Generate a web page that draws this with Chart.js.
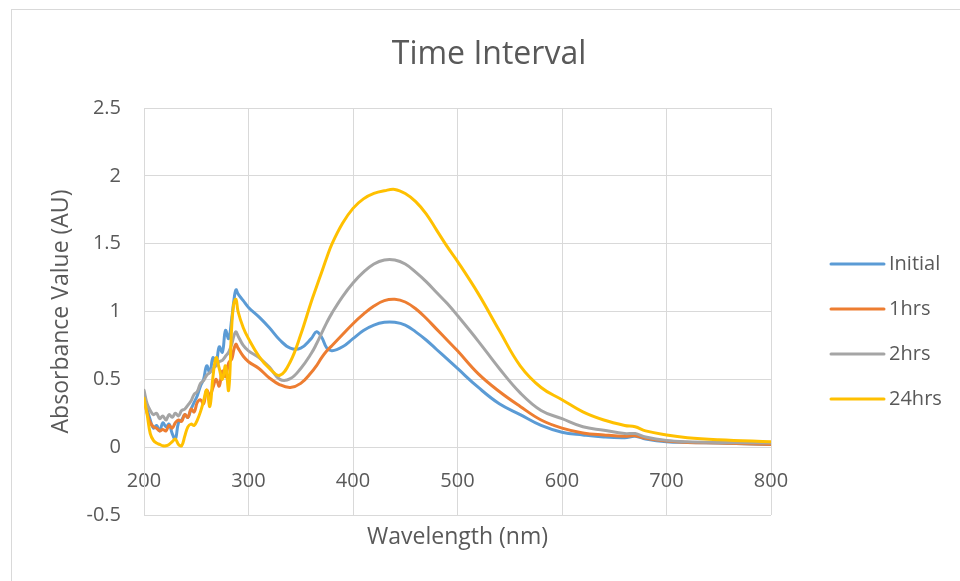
<!DOCTYPE html>
<html>
<head>
<meta charset="utf-8">
<script src="https://cdn.jsdelivr.net/npm/chart.js@4/dist/chart.umd.min.js"></script>
<style>
html,body{margin:0;padding:0;background:#fff;}
canvas{display:block;}
</style>
</head>
<body>
<canvas id="c" width="960" height="581"></canvas>
<script>
// ---- data ----
const wavelengths = [200,203,206,209,212,215,218,221,224,227,230,233,236,239,242,245,248,251,254,257,260,263,266,269,272,275,278,281,284,286,288,290,295,300,310,320,330,340,350,360,365,370,375,380,390,400,410,420,430,440,450,460,470,480,490,500,520,540,560,580,600,620,640,660,670,680,700,720,750,800];
const initial = [0.40,0.28,0.20,0.14,0.16,0.12,0.18,0.15,0.17,0.10,0.06,0.18,0.20,0.24,0.22,0.28,0.33,0.38,0.45,0.50,0.60,0.55,0.66,0.62,0.74,0.70,0.86,0.80,0.95,1.08,1.16,1.13,1.08,1.03,0.96,0.88,0.79,0.73,0.73,0.80,0.85,0.81,0.73,0.71,0.74,0.80,0.86,0.90,0.92,0.92,0.90,0.85,0.79,0.72,0.65,0.58,0.44,0.32,0.24,0.16,0.11,0.09,0.075,0.07,0.08,0.06,0.04,0.035,0.03,0.02];
const hrs1 = [0.38,0.25,0.18,0.15,0.14,0.12,0.13,0.12,0.16,0.14,0.18,0.20,0.19,0.24,0.22,0.28,0.26,0.33,0.35,0.32,0.42,0.38,0.44,0.50,0.45,0.56,0.52,0.62,0.65,0.72,0.76,0.73,0.67,0.63,0.58,0.51,0.46,0.44,0.47,0.55,0.60,0.66,0.71,0.75,0.83,0.91,0.98,1.04,1.08,1.09,1.07,1.02,0.95,0.87,0.79,0.71,0.54,0.41,0.30,0.20,0.14,0.105,0.09,0.08,0.085,0.065,0.045,0.035,0.03,0.02];
const hrs2 = [0.42,0.32,0.27,0.24,0.25,0.21,0.23,0.20,0.24,0.22,0.25,0.23,0.27,0.28,0.31,0.34,0.39,0.41,0.47,0.49,0.53,0.55,0.58,0.60,0.63,0.64,0.67,0.70,0.76,0.82,0.85,0.82,0.75,0.71,0.66,0.59,0.50,0.505,0.58,0.69,0.76,0.84,0.92,0.99,1.11,1.21,1.29,1.35,1.38,1.38,1.35,1.29,1.22,1.14,1.06,0.97,0.78,0.58,0.40,0.27,0.21,0.15,0.125,0.10,0.10,0.075,0.05,0.04,0.035,0.03];
const hrs24 = [0.36,0.24,0.10,0.05,0.03,0.02,0.01,0.01,0.02,0.04,0.06,0.02,0.01,0.08,0.15,0.17,0.16,0.20,0.26,0.34,0.42,0.30,0.52,0.66,0.58,0.50,0.60,0.42,0.90,1.06,1.09,1.00,0.88,0.80,0.67,0.58,0.53,0.63,0.83,1.07,1.18,1.29,1.40,1.50,1.65,1.76,1.83,1.87,1.89,1.90,1.87,1.81,1.72,1.60,1.48,1.37,1.13,0.86,0.60,0.44,0.35,0.26,0.20,0.16,0.15,0.12,0.09,0.07,0.055,0.04];
const seriesNames = ['Initial','1hrs','2hrs','24hrs'];
const xTicks = [200,300,400,500,600,700,800];
const yTicks = [-0.5,0,0.5,1,1.5,2,2.5];

const TXT = '#595959';
const GRID = '#D9D9D9';
const FONT = "'Open Sans', sans-serif";
Chart.defaults.font.family = FONT;

function pts(vals){ return wavelengths.map((w,i)=>({x:w,y:vals[i]})); }
function ds(label, vals, color, order){
  return {label, data: pts(vals), borderColor: color, backgroundColor: color,
    borderWidth: 3, pointRadius: 0, pointHoverRadius: 0, fill: false,
    tension: 0.4, borderCapStyle: 'round', borderJoinStyle: 'round',
    order, xAxisID: 'x', yAxisID: 'y'};
}

const framePlugin = {
  id: 'frame',
  beforeDraw(chart){
    const c = chart.ctx;
    c.save();
    c.fillStyle = '#fff';
    c.fillRect(0,0,chart.width,chart.height);
    c.strokeStyle = GRID; c.lineWidth = 1;
    c.strokeRect(11.5, 9.5, chart.width + 20, chart.height + 20);
    c.restore();
  }
};

const sideLegend = {
  id: 'sideLegend',
  afterDraw(chart){
    const c = chart.ctx, a = chart.chartArea;
    const x0 = a.right + 60, x1 = a.right + 113, tx = a.right + 118;
    c.save();
    c.font = "20px " + FONT;
    c.textBaseline = 'middle';
    c.textAlign = 'left';
    chart.data.datasets.forEach((d,i)=>{
      const y = a.top + 156 + 45*i;
      c.strokeStyle = d.borderColor; c.lineWidth = 3; c.lineCap = 'round';
      c.beginPath(); c.moveTo(x0,y); c.lineTo(x1,y); c.stroke();
      c.fillStyle = TXT;
      c.fillText(d.label, tx, y);
    });
    c.restore();
  }
};

new Chart(document.getElementById('c'), {
  type: 'line',
  data: {
    datasets: [
      ds(seriesNames[0], initial, '#5B9BD5', 3),
      ds(seriesNames[1], hrs1, '#ED7D31', 2),
      ds(seriesNames[2], hrs2, '#A5A5A5', 1),
      ds(seriesNames[3], hrs24, '#FFC000', 0)
    ]
  },
  options: {
    responsive: false,
    animation: false,
    layout: { padding: { left: 18, right: 0, top: 0, bottom: 0 } },
    plugins: {
      legend: { display: false },
      tooltip: { enabled: false },
      title: { display: true, text: 'Time Interval', color: TXT,
        font: { size: 32, weight: 'normal', family: FONT },
        padding: { top: 36, bottom: 33.6 } }
    },
    scales: {
      x: {
        type: 'linear', position: { y: 0 }, min: 200, max: 800,
        afterBuildTicks: s => { s.ticks = xTicks.map(v => ({ value: v })); },
        ticks: { color: TXT, font: { size: 20 }, padding: 22, maxRotation: 0, autoSkip: false },
        grid: { color: GRID, lineWidth: 1, drawTicks: false },
        border: { color: GRID, width: 1 }
      },
      xTitle: {
        type: 'linear', position: 'bottom', min: 200, max: 800,
        ticks: { display: false }, grid: { display: false }, border: { display: false },
        title: { display: true, text: 'Wavelength (nm)', color: TXT, font: { size: 23 },
          padding: { top: 0, bottom: 30 } },
        afterFit: s => { s.height = 66; }
      },
      y: {
        type: 'linear', position: 'left', min: -0.5, max: 2.5,
        afterBuildTicks: s => { s.ticks = yTicks.map(v => ({ value: v })); },
        ticks: { color: TXT, font: { size: 20 }, padding: 23, callback: v => String(v) },
        grid: { color: GRID, lineWidth: 1, drawTicks: false },
        border: { color: GRID, width: 1 },
        title: { display: true, text: 'Absorbance Value (AU)', color: TXT, font: { size: 23 },
          padding: { top: 30, bottom: 0 } },
        afterFit: s => { s.width = 126; }
      },
      yRight: {
        type: 'linear', position: 'right',
        ticks: { display: false }, grid: { display: false }, border: { display: false },
        afterFit: s => { s.width = 189; }
      }
    }
  },
  plugins: [framePlugin, sideLegend]
});
</script>
</body>
</html>
